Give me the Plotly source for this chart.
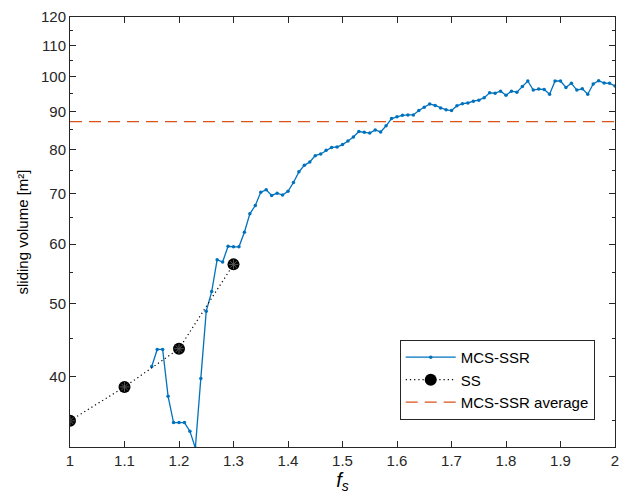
import numpy as np
import plotly.graph_objects as go

# MCS-SSR data
mcs_x = [round(1.15 + 0.01 * i, 2) for i in range(86)]
mcs_y = [41.3, 43.5, 43.5, 37.7, 34.8, 34.8, 34.8, 33.9, 32.2, 39.8,
         48.9, 51.9, 57.2, 56.8, 59.6, 59.5, 59.5, 62.2, 65.8, 67.5,
         70.3, 70.8, 69.6, 70.1, 69.7, 70.5, 72.4, 74.8, 76.3, 77.1,
         78.6, 79.0, 79.9, 80.6, 80.7, 81.3, 82.2, 83.2, 84.6, 84.4,
         84.2, 85.0, 84.5, 86.1, 88.0, 88.5, 88.9, 89.0, 89.0, 90.2,
         91.1, 92.0, 91.6, 90.9, 90.4, 90.2, 91.5, 92.1, 92.3, 92.8,
         93.1, 93.8, 95.2, 95.1, 95.7, 94.5, 95.7, 95.4, 97.1, 98.7,
         96.0, 96.3, 96.2, 94.8, 98.7, 98.7, 96.8, 98.0, 96.0, 96.4,
         94.8, 97.8, 98.8, 98.1, 98.0, 97.2]

# SS data
ss_x = [1.0, 1.1, 1.2, 1.3]
ss_y = [35.0, 38.8, 43.6, 56.4]

avg_value = 87.2
avg_x = [1.0, 2.0]

x_ticks = [1, 1.1, 1.2, 1.3, 1.4, 1.5, 1.6, 1.7, 1.8, 1.9, 2]
x_tick_text = ["1", "1.1", "1.2", "1.3", "1.4", "1.5", "1.6", "1.7", "1.8", "1.9", "2"]
y_ticks = [40, 50, 60, 70, 80, 90, 100, 110, 120]
y_minor = [35, 45, 55, 65, 75, 85, 95, 105, 115]
y_range = [32.3, 120]

BLUE = "#0072BD"
ORANGE = "#D95319"
AX = "#262626"
FONT = "Liberation Sans, Arial, sans-serif"

fig = go.Figure()
fig.add_trace(go.Scatter(
    x=mcs_x, y=mcs_y, mode="lines+markers", name="MCS-SSR",
    line=dict(color=BLUE, width=1.3),
    marker=dict(color=BLUE, size=3.5, symbol="circle"),
))
fig.add_trace(go.Scatter(
    x=ss_x, y=ss_y, mode="lines+markers", name="SS",
    line=dict(color="black", width=1.2, dash="1.2px,3px"),
    marker=dict(color="black", size=12, symbol="circle"),
))
fig.add_trace(go.Scatter(
    x=ss_x, y=ss_y, mode="markers", showlegend=False, hoverinfo="skip",
    marker=dict(color="#555555", size=8, symbol="asterisk-open", line=dict(color="#555555", width=1)),
))
fig.add_trace(go.Scatter(
    x=avg_x, y=[avg_value, avg_value], mode="lines", name="MCS-SSR average",
    line=dict(color=ORANGE, width=1.3, dash="12px,7px"),
))

fig.update_layout(
    width=621, height=502,
    margin=dict(l=70, r=6, t=17, b=55),
    plot_bgcolor="white", paper_bgcolor="white",
    font=dict(family=FONT, size=15, color=AX),
    showlegend=True,
    legend=dict(
        x=0.605, y=0.249, xanchor="left", yanchor="top",
        bordercolor=AX, borderwidth=1, bgcolor="white",
        font=dict(size=15, color="black"),
        tracegroupgap=0, itemwidth=50,
    ),
)
fig.update_xaxes(
    range=[1, 2], tickvals=x_ticks, ticktext=x_tick_text,
    showgrid=False, zeroline=False, automargin=False,
    showline=True, linecolor=AX, linewidth=1, mirror="ticks",
    ticks="inside", ticklen=6, tickcolor=AX,
    tickfont=dict(size=15, color=AX),
    title=dict(text="<i>f<sub>s</sub></i>", font=dict(size=20, color="black"), standoff=4),
)
fig.update_yaxes(
    type="log", range=[np.log10(y_range[0]), np.log10(y_range[1])],
    tickvals=y_ticks, ticktext=[str(v) for v in y_ticks],
    showgrid=False, zeroline=False, automargin=False,
    showline=True, linecolor=AX, linewidth=1, mirror="ticks",
    ticks="inside", ticklen=6, tickcolor=AX,
    tickfont=dict(size=15, color=AX),
    minor=dict(tickvals=y_minor, ticks="inside", ticklen=3, tickcolor=AX, showgrid=False),
    title=dict(text="sliding volume [m²]", font=dict(size=15, color="black"), standoff=8),
)

fig.write_html("out.html")
